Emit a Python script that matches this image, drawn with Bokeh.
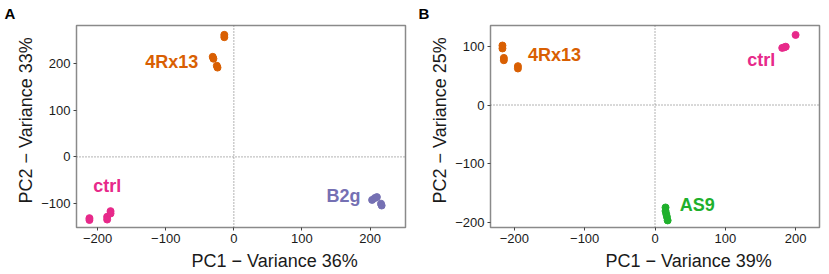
from bokeh.plotting import figure
from bokeh.layouts import row
from bokeh.models import Span, Title, Label, FixedTicker, Range1d
from bokeh.embed import file_html
from bokeh.resources import INLINE

# ---------------- data: panel A ----------------
a_rx_x = [-14, -14, -31, -30, -25, -24]
a_rx_y = [261, 256, 214, 210, 195, 191]
a_ctrl_x = [-212, -212, -186, -186, -181, -181]
a_ctrl_y = [-131, -135, -128, -134, -116, -121]
a_b2g_x = [203, 207, 210, 216, 217]
a_b2g_y = [-92, -88, -86, -100, -104]

# ---------------- data: panel B ----------------
b_rx_x = [-217, -217, -215, -215, -195, -195]
b_rx_y = [101, 96, 80, 76, 66, 62]
b_ctrl_x = [200, 181, 184, 186]
b_ctrl_y = [119, 97, 98, 99]
b_as9_x = [15, 15, 16, 17, 18]
b_as9_y = [-174, -180, -185, -190, -196]

x_ticks = [-200, -100, 0, 100, 200]
a_y_ticks = [-100, 0, 100, 200]
b_y_ticks = [-200, -100, 0, 100]

C_RX = "#d95f02"
C_CTRL = "#e7298a"
C_B2G = "#7570b3"
C_AS9 = "#1fb02c"
FONT = "Liberation Sans"


def make_panel(letter, xr, yr, yticks, xlabel, ylabel, groups, labels, width):
    p = figure(width=width, height=274, x_range=Range1d(*xr), y_range=Range1d(*yr),
               output_backend="svg", toolbar_location=None,
               min_border_left=76, min_border_right=width - 76 - 329,
               min_border_top=25, min_border_bottom=47)
    p.frame_width = 329
    p.frame_height = 202
    p.xgrid.visible = False
    p.ygrid.visible = False
    p.outline_line_color = "#8a8a8a"
    p.outline_line_width = 1.5
    p.background_fill_color = "white"
    p.border_fill_color = "white"
    for ax, ticks in ((p.xaxis, x_ticks), (p.yaxis, yticks)):
        ax.ticker = FixedTicker(ticks=ticks)
        ax.axis_line_color = None
        ax.major_tick_line_color = "#444444"
        ax.major_tick_in = 0
        ax.major_tick_out = 3
        ax.minor_tick_line_color = None
        ax.major_label_text_font = FONT
        ax.major_label_text_font_size = "13px"
        ax.major_label_text_color = "#1a1a1a"
        ax.major_label_standoff = 3
    p.add_layout(Span(location=0, dimension="height", line_color="#666666",
                      line_dash="1 2", line_width=1))
    p.add_layout(Span(location=0, dimension="width", line_color="#666666",
                      line_dash="1 2", line_width=1))
    for xs, ys, c in groups:
        p.scatter(xs, ys, size=7, color=c, line_color=c)
    for txt, x, y, c in labels:
        p.add_layout(Label(x=x, y=y, text=txt, text_color=c, text_font=FONT,
                           text_font_style="bold", text_font_size="18px",
                           text_align="center", text_baseline="middle"))
    p.add_layout(Title(text=xlabel, align="left", offset=115, text_font=FONT,
                       text_font_size="18px", text_font_style="normal",
                       text_color="#1a1a1a", standoff=6), "below")
    p.add_layout(Title(text=ylabel, align="left", offset=24, text_font=FONT,
                       text_font_size="18px", text_font_style="normal",
                       text_color="#1a1a1a", standoff=6), "left")
    p.add_layout(Title(text=letter, align="left", offset=-72, text_font=FONT,
                       text_font_size="15px", text_font_style="bold",
                       vertical_align="top",
                       text_color="black", standoff=4), "above")
    return p


pa = make_panel("A", (-231, 252), (-151, 281), a_y_ticks,
                "PC1 − Variance 36%", "PC2 − Variance 33%",
                [(a_rx_x, a_rx_y, C_RX), (a_ctrl_x, a_ctrl_y, C_CTRL),
                 (a_b2g_x, a_b2g_y, C_B2G)],
                [("4Rx13", -91, 202, C_RX), ("ctrl", -186, -63, C_CTRL),
                 ("B2g", 161, -83, C_B2G)], 414)

pb = make_panel("B", (-234, 234), (-208, 135), b_y_ticks,
                "PC1 − Variance 39%", "PC2 − Variance 25%",
                [(b_rx_x, b_rx_y, C_RX), (b_ctrl_x, b_ctrl_y, C_CTRL),
                 (b_as9_x, b_as9_y, C_AS9)],
                [("4Rx13", -143, 85, C_RX), ("ctrl", 151, 76, C_CTRL),
                 ("AS9", 60, -169, C_AS9)], 415)

layout = row(pa, pb, spacing=0)
open("out.html", "w").write(file_html(layout, INLINE))
